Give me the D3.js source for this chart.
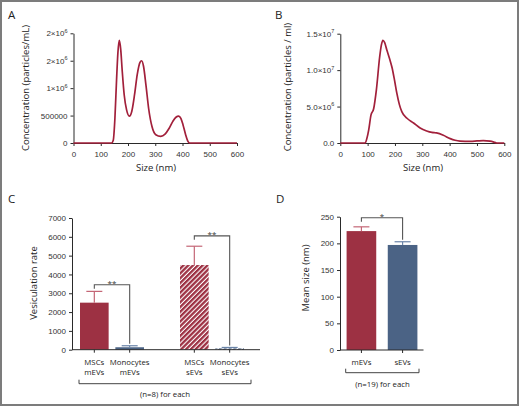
<!DOCTYPE html>
<html>
<head>
<meta charset="utf-8">
<script src="https://cdn.jsdelivr.net/npm/d3@7"></script>
<style>
  body { margin: 0; background: #fff; }
  svg { display: block; font-family: "Open Sans", "Noto Sans", sans-serif; }
</style>
</head>
<body>
<svg id="fig" width="520" height="407"></svg>
<script>
// A - size distribution mEVs (concentration in 10^6 particles/mL)
const sizeA = [0, 140, 146, 152, 158, 163, 168, 173, 179, 186, 195, 205, 214, 224, 234, 244, 250, 257, 266, 276, 288, 302, 320, 336, 350, 364, 376, 386, 394, 402, 411, 419, 426, 600];
const concA = [0, 0, 0.05, 0.45, 1.15, 1.65, 1.87, 1.72, 1.3, 0.88, 0.6, 0.49, 0.58, 0.88, 1.25, 1.47, 1.5, 1.4, 1.05, 0.62, 0.3, 0.15, 0.12, 0.16, 0.26, 0.39, 0.47, 0.49, 0.45, 0.33, 0.16, 0.04, 0, 0];
const yTicksA = [0, 5e5, 1e6, 1.5e6, 2e6];
const yLabelsA = [["0"], ["500000"], ["1×10", "6"], ["2×10", "6"], ["2×10", "6"]];

// B - size distribution sEVs (concentration in 10^6 particles/ml)
const sizeB = [0, 91, 97, 104, 112, 122, 132, 144, 150, 156, 162, 170, 180, 189, 198, 207, 216, 225, 244, 268, 292, 316, 335, 352, 377, 402, 420, 438, 475, 500, 523, 548, 565, 572, 600];
const concB = [0, 0, 0.6, 1.8, 3.8, 4.7, 7.3, 11.8, 13.4, 14.1, 13.8, 12.8, 11.6, 10.4, 8.7, 6.8, 5.3, 4.3, 3.4, 2.75, 2.06, 1.65, 1.45, 1.38, 1.06, 0.6, 0.38, 0.27, 0.23, 0.28, 0.33, 0.25, 0.08, 0, 0];
const yTicksB = [0, 5e6, 1e7, 1.5e7];
const yLabelsB = [["0.0"], ["5.0×10", "6"], ["1.0×10", "7"], ["1.5×10", "7"]];

const sizeTicks = [0, 100, 200, 300, 400, 500, 600];

// C - vesiculation rate
const rateCell = ["MSCs", "Monocytes", "MSCs", "Monocytes"];
const rateType = ["mEVs", "mEVs", "sEVs", "sEVs"];
const rateMean = [2500, 130, 4500, 70];
const rateSem = [600, 80, 1000, 50];
const rateTicks = [0, 1000, 2000, 3000, 4000, 5000, 6000, 7000];
const rateSig = [[0, 1, 3450, "**"], [2, 3, 6050, "**"]];

// D - mean size
const sizeCats = ["mEVs", "sEVs"];
const sizeMean = [223, 197];
const sizeSem = [8, 6];
const meanTicks = [0, 50, 100, 150, 200, 250];

const red = "#9d3143", blue = "#4b6385", lineRed = "#a2203b";
const redErr = "#c46676", blueErr = "#6a84a8";
const axisCol = "#2a2a2a", brCol = "#555";

const svg = d3.select("#fig");

svg.append("rect")
  .attr("x", 1).attr("y", 1).attr("width", 517).attr("height", 404)
  .attr("fill", "#fff").attr("stroke", "#7c7c7c").attr("stroke-width", 2);

const defs = svg.append("defs");
[["hatchRed", red], ["hatchBlue", blue]].forEach(([id, col]) => {
  const p = defs.append("pattern")
    .attr("id", id).attr("patternUnits", "userSpaceOnUse")
    .attr("width", 3.4).attr("height", 3.4)
    .attr("patternTransform", "rotate(45)");
  p.append("rect").attr("width", 3.4).attr("height", 3.4).attr("fill", "#fff");
  p.append("rect").attr("width", 2.3).attr("height", 3.4).attr("fill", col);
});

function styleAxis(g) {
  g.select(".domain").attr("stroke", axisCol);
  g.selectAll(".tick line").attr("stroke", axisCol);
  g.selectAll(".tick text").attr("font-size", 8).attr("fill", "#333").attr("font-family", null);
}

function supLabels(g, labels) {
  g.selectAll(".tick text").each(function (d, i) {
    const t = d3.select(this).text(null);
    const l = labels[i];
    t.append("tspan").text(l[0]);
    if (l[1]) t.append("tspan").attr("dy", -3.5).attr("font-size", 5.5).text(l[1]);
  });
}

function yTitle(x, y, txt) {
  svg.append("text")
    .attr("transform", `translate(${x},${y}) rotate(-90)`)
    .attr("text-anchor", "middle").attr("font-size", 9.5).attr("fill", "#222")
    .text(txt);
}

function plainText(x, y, txt, size) {
  return svg.append("text").attr("x", x).attr("y", y)
    .attr("text-anchor", "middle").attr("font-size", size).attr("fill", "#222").text(txt);
}

function panelLetter(x, y, l) {
  svg.append("text").attr("x", x).attr("y", y).attr("font-size", 11.5).attr("fill", "#222").text(l);
}

// distribution panels (A and B)
function drawDist(xs, ys, sizes, concs, yTicks, yLabels) {
  const g = svg.append("g");
  g.append("g").attr("transform", `translate(0,${ys.range()[0]})`)
    .call(d3.axisBottom(xs).tickValues(sizeTicks).tickSize(3).tickSizeOuter(0).tickPadding(5))
    .call(styleAxis);
  const ya = g.append("g").attr("transform", `translate(${xs.range()[0]},0)`)
    .call(d3.axisLeft(ys).tickValues(yTicks).tickSize(3).tickSizeOuter(0).tickPadding(3))
    .call(styleAxis);
  supLabels(ya, yLabels);

  const line = d3.line()
    .x((d, i) => xs(sizes[i]))
    .y(d => ys(d * 1e6))
    .curve(d3.curveMonotoneX);
  g.append("path").datum(concs)
    .attr("d", line).attr("fill", "none")
    .attr("stroke", lineRed).attr("stroke-width", 1.7);
}

const xA = d3.scaleLinear([0, 600], [73.5, 237]);
const yA = d3.scaleLinear([0, 2e6], [143, 33.3]);
drawDist(xA, yA, sizeA, concA, yTicksA, yLabelsA);
yTitle(29, 88, "Concentration (particles/mL)");
plainText(156, 171, "Size (nm)", 9.5);
panelLetter(8, 19, "A");

const xB = d3.scaleLinear([0, 600], [340.3, 504.3]);
const yB = d3.scaleLinear([0, 1.5e7], [143, 33.7]);
drawDist(xB, yB, sizeB, concB, yTicksB, yLabelsB);
yTitle(291, 87, "Concentration (particles / ml)");
plainText(423, 171, "Size (nm)", 9.5);
panelLetter(275, 19, "B");

// bar panels (C and D)
function drawBars(opt) {
  const { xs, ys, means, sems, fills, errs, axisEnd, ticks, sig } = opt;
  const g = svg.append("g");
  const y0 = ys.range()[0];
  const bw = opt.bandwidth;
  const cx = i => xs(i) + bw / 2;

  // bars
  g.selectAll("rect.bar").data(means).join("rect")
    .attr("class", "bar")
    .attr("x", (d, i) => xs(i)).attr("width", bw)
    .attr("y", d => ys(d)).attr("height", d => y0 - ys(d))
    .attr("fill", (d, i) => fills[i]);

  // error bars (upper only)
  const eb = g.selectAll("g.err").data(means).join("g").attr("class", "err")
    .attr("stroke", (d, i) => errs[i]).attr("stroke-width", 1.2);
  eb.append("line")
    .attr("x1", (d, i) => cx(i)).attr("x2", (d, i) => cx(i))
    .attr("y1", d => ys(d)).attr("y2", (d, i) => ys(d + sems[i]));
  eb.append("line")
    .attr("x1", (d, i) => cx(i) - 8).attr("x2", (d, i) => cx(i) + 8)
    .attr("y1", (d, i) => ys(d + sems[i])).attr("y2", (d, i) => ys(d + sems[i]));

  // axes
  g.append("g").attr("transform", `translate(${xs.range()[0]},0)`)
    .call(d3.axisLeft(ys).tickValues(ticks).tickFormat(d3.format("d"))
      .tickSize(3).tickSizeOuter(0).tickPadding(3))
    .call(styleAxis);
  g.append("line")
    .attr("x1", xs.range()[0]).attr("x2", axisEnd)
    .attr("y1", y0).attr("y2", y0).attr("stroke", axisCol);
  g.selectAll("line.xt").data(means).join("line").attr("class", "xt")
    .attr("x1", (d, i) => cx(i)).attr("x2", (d, i) => cx(i))
    .attr("y1", y0).attr("y2", y0 + 3).attr("stroke", axisCol);

  // significance brackets
  sig.forEach(([a, b, v, lab]) => {
    const by = ys(v);
    const rTop = ys(means[b] + sems[b]) - 2;
    g.append("path")
      .attr("d", `M${cx(a)},${by + 4}V${by}H${cx(b)}V${rTop}`)
      .attr("fill", "none").attr("stroke", brCol).attr("stroke-width", 1.1);
    g.append("text")
      .attr("x", (cx(a) + cx(b)) / 2).attr("y", by + 1.5)
      .attr("text-anchor", "middle").attr("font-size", 8).attr("fill", "#333")
      .text(lab);
  });
  return cx;
}

function groupBracket(x1, x2, y) {
  svg.append("path")
    .attr("d", `M${x1},${y - 4}V${y}H${x2}V${y - 4}`)
    .attr("fill", "none").attr("stroke", "#444").attr("stroke-width", 1);
}

// C
const yC = d3.scaleLinear([0, 7000], [349.7, 218]);
const groupC = d3.scaleBand(["mEVs", "sEVs"], [72, 252]).paddingInner(0.36).paddingOuter(0.08);
const innerC = d3.scaleBand(["MSCs", "Monocytes"], [0, groupC.bandwidth()]).paddingInner(0.19);
const xC = i => groupC(rateType[i]) + innerC(rateCell[i]);
xC.range = () => [72, 252];
const cxC = drawBars({
  xs: xC, ys: yC, means: rateMean, sems: rateSem,
  bandwidth: innerC.bandwidth(),
  fills: [red, blue, "url(#hatchRed)", "url(#hatchBlue)"],
  errs: [redErr, blueErr, redErr, blueErr],
  axisEnd: 260, ticks: rateTicks, sig: rateSig
});
rateCell.forEach((c, i) => {
  plainText(cxC(i), 364.5, c, 7.8);
  plainText(cxC(i), 375, rateType[i], 7.8);
});
groupBracket(79, 251, 383.7);
plainText(165, 397, "(n=8) for each", 7.8);
yTitle(37, 283, "Vesiculation rate");
panelLetter(8, 203, "C");

// D
const yD = d3.scaleLinear([0, 250], [350, 216.7]);
const bandD = d3.scaleBand(sizeCats, [340, 424]).paddingInner(0.28).paddingOuter(0.16);
const xD = i => bandD(sizeCats[i]);
xD.range = () => [340, 424];
const cxD = drawBars({
  xs: xD, ys: yD, means: sizeMean, sems: sizeSem,
  bandwidth: bandD.bandwidth(),
  fills: [red, blue], errs: [redErr, blueErr],
  axisEnd: 423.5, ticks: meanTicks, sig: [[0, 1, 248, "*"]]
});
sizeCats.forEach((c, i) => plainText(cxD(i), 364.5, c, 7.8));
groupBracket(345.7, 419, 372.7);
plainText(382.5, 386.5, "(n=19) for each", 7.8);
yTitle(309, 278, "Mean size (nm)");
panelLetter(276, 203, "D");
</script>
</body>
</html>
